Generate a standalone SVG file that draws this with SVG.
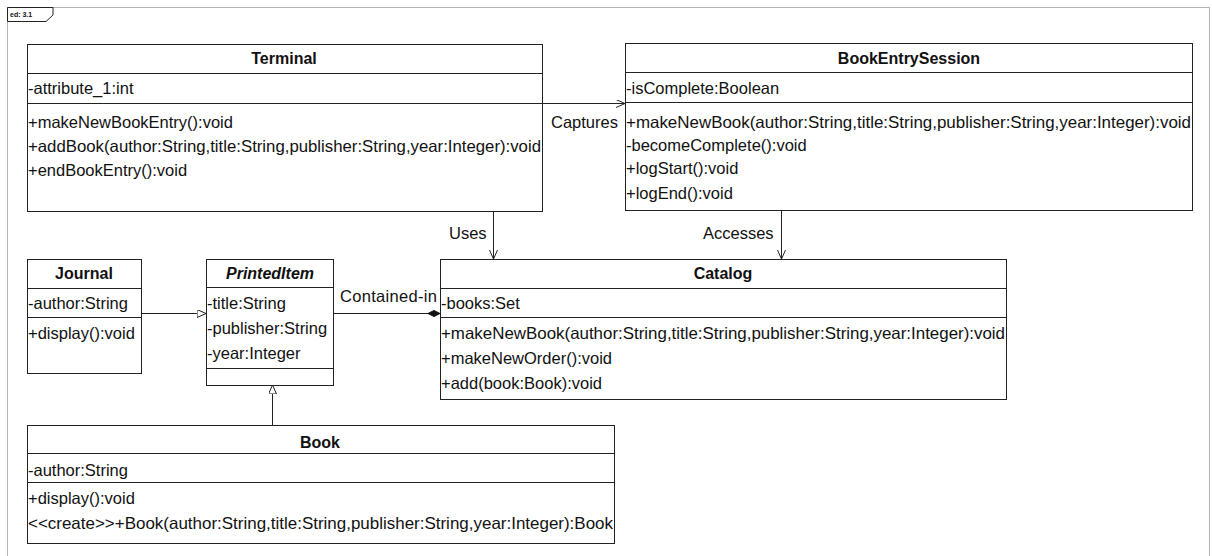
<svg xmlns="http://www.w3.org/2000/svg" width="1212" height="556" viewBox="0 0 1212 556">
<defs>
<style>
.box{fill:#fff;stroke:#222;stroke-width:1}
.div{stroke:#222;stroke-width:1}
.t{font-family:"Liberation Sans",Arial,sans-serif;font-size:16.5px;fill:#111}
.h{font-family:"Liberation Sans",Arial,sans-serif;font-size:16px;font-weight:bold;fill:#111;text-anchor:middle}
.hi{font-style:italic}
.lbl{font-family:"Liberation Sans",Arial,sans-serif;font-size:16.5px;fill:#111}
.ln{fill:none;stroke:#222;stroke-width:1}
.frame{fill:none;stroke:#666;stroke-width:1;stroke-dasharray:1 1}
</style>
<marker id="open" markerWidth="10" markerHeight="10" refX="9" refY="4" orient="auto" markerUnits="userSpaceOnUse">
<path d="M0,0 L9,4 L0,8" fill="none" stroke="#222" stroke-width="1"/>
</marker>
<marker id="tri" markerWidth="12" markerHeight="12" refX="9" refY="4" orient="auto" markerUnits="userSpaceOnUse">
<path d="M0,0 L9,4 L0,8 Z" fill="#fff" stroke="#222" stroke-width="1"/>
</marker>
<marker id="dia" markerWidth="14" markerHeight="10" refX="12" refY="4" orient="auto" markerUnits="userSpaceOnUse">
<path d="M0,4 L6,1 L12,4 L6,7 Z" fill="#111" stroke="#111" stroke-width="1"/>
</marker>
</defs>
<rect width="1212" height="556" fill="#fff"/>
<rect class="frame" x="7.5" y="7.5" width="1202" height="560"/>
<g id="frame-label">
<path d="M7.5,7.5 H53 V15 L46,21.5 H7.5 Z" fill="#fff" stroke="#222" stroke-width="1"/>
<text x="10" y="17" font-family="'Liberation Sans',Arial,sans-serif" font-size="7" font-weight="bold" fill="#111">ed:  3.1</text>
</g>

<g id="connectors">
<line class="ln" x1="543" y1="103.5" x2="625" y2="103.5" marker-end="url(#open)"/>
<text class="lbl" x="551" y="128">Captures</text>
<line class="ln" x1="493.5" y1="212" x2="493.5" y2="259" marker-end="url(#open)"/>
<text class="lbl" x="449" y="239">Uses</text>
<line class="ln" x1="781.5" y1="211" x2="781.5" y2="259" marker-end="url(#open)"/>
<text class="lbl" x="703" y="239">Accesses</text>
<line class="ln" x1="141" y1="313.5" x2="206" y2="313.5" marker-end="url(#tri)"/>
<line class="ln" x1="333" y1="313.5" x2="440" y2="313.5" marker-end="url(#dia)"/>
<text class="lbl" x="340" y="302" textLength="97" lengthAdjust="spacing">Contained-in</text>
<line class="ln" x1="272.5" y1="425" x2="272.5" y2="385" marker-end="url(#tri)"/>
</g>

<g id="Terminal">
<rect class="box" x="27.5" y="44.5" width="515" height="167"/>
<line class="div" x1="27.5" y1="73.5" x2="542.5" y2="73.5"/>
<line class="div" x1="27.5" y1="103.5" x2="542.5" y2="103.5"/>
<text class="h" x="284" y="64">Terminal</text>
<text class="t" x="28" y="94">-attribute_1:int</text>
<text class="t" x="28" y="128">+makeNewBookEntry():void</text>
<text class="t" x="28" y="152" textLength="513" lengthAdjust="spacingAndGlyphs">+addBook(author:String,title:String,publisher:String,year:Integer):void</text>
<text class="t" x="28" y="176">+endBookEntry():void</text>
</g>

<g id="BookEntrySession">
<rect class="box" x="625.5" y="43.5" width="567" height="167"/>
<line class="div" x1="625.5" y1="72.5" x2="1192.5" y2="72.5"/>
<line class="div" x1="625.5" y1="102.5" x2="1192.5" y2="102.5"/>
<text class="h" x="909" y="64">BookEntrySession</text>
<text class="t" x="626" y="94">-isComplete:Boolean</text>
<text class="t" x="626" y="128" textLength="565" lengthAdjust="spacingAndGlyphs">+makeNewBook(author:String,title:String,publisher:String,year:Integer):void</text>
<text class="t" x="626" y="151">-becomeComplete():void</text>
<text class="t" x="626" y="174">+logStart():void</text>
<text class="t" x="626" y="199">+logEnd():void</text>
</g>

<g id="Catalog">
<rect class="box" x="440.5" y="259.5" width="566" height="140"/>
<line class="div" x1="440.5" y1="288.5" x2="1006.5" y2="288.5"/>
<line class="div" x1="440.5" y1="317.5" x2="1006.5" y2="317.5"/>
<text class="h" x="723" y="279">Catalog</text>
<text class="t" x="441" y="309">-books:Set</text>
<text class="t" x="441" y="339" textLength="564" lengthAdjust="spacingAndGlyphs">+makeNewBook(author:String,title:String,publisher:String,year:Integer):void</text>
<text class="t" x="441" y="364">+makeNewOrder():void</text>
<text class="t" x="441" y="389">+add(book:Book):void</text>
</g>

<g id="Journal">
<rect class="box" x="27.5" y="259.5" width="114" height="114"/>
<line class="div" x1="27.5" y1="288.5" x2="141.5" y2="288.5"/>
<line class="div" x1="27.5" y1="317.5" x2="141.5" y2="317.5"/>
<text class="h" x="84" y="279">Journal</text>
<text class="t" x="28" y="309">-author:String</text>
<text class="t" x="28" y="339">+display():void</text>
</g>

<g id="PrintedItem">
<rect class="box" x="206.5" y="259.5" width="127" height="126"/>
<line class="div" x1="206.5" y1="287.5" x2="333.5" y2="287.5"/>
<line class="div" x1="206.5" y1="368.5" x2="333.5" y2="368.5"/>
<text class="h hi" x="270" y="279">PrintedItem</text>
<text class="t" x="207" y="309">-title:String</text>
<text class="t" x="207" y="334">-publisher:String</text>
<text class="t" x="207" y="359">-year:Integer</text>
</g>

<g id="Book">
<rect class="box" x="27.5" y="425.5" width="587" height="118"/>
<line class="div" x1="27.5" y1="453.5" x2="614.5" y2="453.5"/>
<line class="div" x1="27.5" y1="482.5" x2="614.5" y2="482.5"/>
<text class="h" x="320" y="448">Book</text>
<text class="t" x="28" y="476">-author:String</text>
<text class="t" x="28" y="504">+display():void</text>
<text class="t" x="28" y="529" textLength="585" lengthAdjust="spacingAndGlyphs">&lt;&lt;create&gt;&gt;+Book(author:String,title:String,publisher:String,year:Integer):Book</text>
</g>
</svg>
